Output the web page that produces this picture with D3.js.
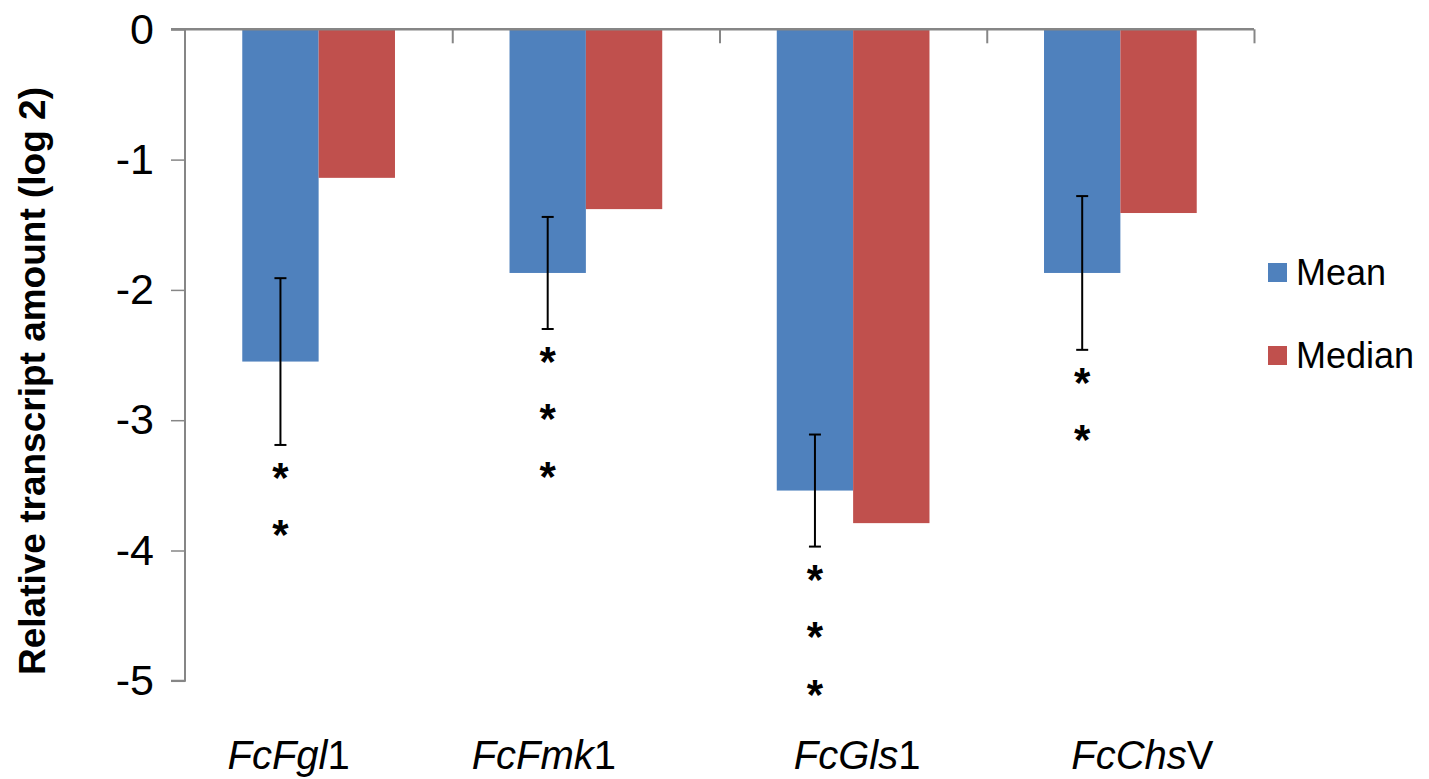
<!DOCTYPE html>
<html>
<head>
<meta charset="utf-8">
<script src="https://cdn.jsdelivr.net/npm/d3@7"></script>
<style>
html,body{margin:0;padding:0;background:#fff;}
svg{display:block;font-family:"Liberation Sans",Arial,sans-serif;}
</style>
</head>
<body>
<svg id="chart" width="1429" height="779"></svg>
<script>
// ---- data ----
const categoryItalic = ["FcFgl", "FcFmk", "FcGls", "FcChs"];
const categorySuffix = ["1", "1", "1", "V"];
const seriesNames = ["Mean", "Median"];
const meanValues = [-2.55, -1.87, -3.54, -1.87];
const medianValues = [-1.14, -1.38, -3.79, -1.41];
const meanErrors = [0.64, 0.43, 0.43, 0.59];
const starCounts = [2, 3, 3, 2];
const yTicks = [0, -1, -2, -3, -4, -5];
const colors = ["#4F81BD", "#C0504D"];

// ---- layout ----
const svg = d3.select("#chart");
const plot = {left: 185, right: 1254, top: 29.3, bottom: 680.8};
const labelShift = [-30, -42, 4, 22];

const y = d3.scaleLinear().domain([-5, 0]).range([plot.bottom, plot.top]);
const x0 = d3.scaleBand().domain(d3.range(categoryItalic.length)).range([plot.left, plot.right]).padding(0);
const x1 = d3.scaleBand().domain(seriesNames).range([0, x0.bandwidth()]).paddingInner(0).paddingOuter(0.75);

const seriesValues = [meanValues, medianValues];

// bars
const groups = svg.append("g").selectAll("g").data(d3.range(categoryItalic.length)).join("g")
  .attr("transform", i => `translate(${x0(i)},0)`);
groups.selectAll("rect").data(i => seriesNames.map((s, k) => ({s, k, v: seriesValues[k][i]})))
  .join("rect")
  .attr("x", d => x1(d.s))
  .attr("width", x1.bandwidth())
  .attr("y", y(0))
  .attr("height", d => y(d.v) - y(0))
  .attr("fill", d => colors[d.k]);

// y axis
const yAxis = d3.axisLeft(y).tickValues(yTicks).tickSize(14).tickPadding(17).tickFormat(d => String(d));
const gy = svg.append("g").attr("transform", `translate(${plot.left},0)`).call(yAxis);
gy.select(".domain").attr("stroke", "#868686").attr("stroke-width", 2).attr("d", `M-14,${plot.top}H0V${plot.bottom}H-14`);
gy.selectAll(".tick line").attr("stroke", "#868686").attr("stroke-width", 1.5);
gy.selectAll(".tick text").attr("font-size", 43).attr("fill", "#000").attr("font-family", "Liberation Sans, Arial, sans-serif");

// top category axis at y=0
const xAxisTop = d3.axisBottom(d3.scaleLinear().domain([0, categoryItalic.length]).range([plot.left, plot.right]))
  .tickValues(d3.range(1, categoryItalic.length + 1)).tickSize(14).tickFormat("");
const gx = svg.append("g").attr("transform", `translate(0,${y(0)})`).call(xAxisTop);
gx.select(".domain").attr("stroke", "#868686").attr("stroke-width", 2.5).attr("d", `M${plot.left - 14},0H${plot.right}`);
gx.selectAll(".tick line").attr("stroke", "#868686").attr("stroke-width", 2);

// error bars
const eb = svg.append("g").attr("stroke", "#000").attr("stroke-width", 2);
d3.range(categoryItalic.length).forEach(i => {
  const cx = x0(i) + x1("Mean") + x1.bandwidth() / 2;
  const top = y(meanValues[i] + meanErrors[i]);
  const bot = y(meanValues[i] - meanErrors[i]);
  eb.append("line").attr("x1", cx).attr("x2", cx).attr("y1", top).attr("y2", bot);
  eb.append("line").attr("x1", cx - 6).attr("x2", cx + 6).attr("y1", top).attr("y2", top);
  eb.append("line").attr("x1", cx - 6).attr("x2", cx + 6).attr("y1", bot).attr("y2", bot);
  // significance stars
  for (let s = 0; s < starCounts[i]; s++) {
    svg.append("text").attr("x", cx).attr("y", bot + 47 + s * 57.5)
      .attr("text-anchor", "middle").attr("font-size", 42).attr("font-weight", "bold").attr("fill", "#000")
      .text("*");
  }
});

// category labels
d3.range(categoryItalic.length).forEach(i => {
  const t = svg.append("text")
    .attr("x", x0(i) + x0.bandwidth() / 2 + labelShift[i])
    .attr("y", 769)
    .attr("text-anchor", "middle")
    .attr("font-size", 40)
    .attr("fill", "#000");
  t.append("tspan").attr("font-style", "italic").text(categoryItalic[i]);
  t.append("tspan").text(categorySuffix[i]);
});

// axis title
svg.append("text")
  .attr("transform", `translate(45,381) rotate(-90)`)
  .attr("text-anchor", "middle")
  .attr("font-size", 37)
  .attr("font-weight", "bold")
  .attr("fill", "#000")
  .text("Relative transcript amount (log 2)");

// legend
const leg = svg.append("g").attr("transform", "translate(1268,263)");
seriesNames.forEach((s, k) => {
  const g = leg.append("g").attr("transform", `translate(0,${k * 83})`);
  g.append("rect").attr("width", 19).attr("height", 19).attr("fill", colors[k]);
  g.append("text").attr("x", 28).attr("y", 22).attr("font-size", 36).attr("fill", "#000").text(s);
});
</script>
</body>
</html>
